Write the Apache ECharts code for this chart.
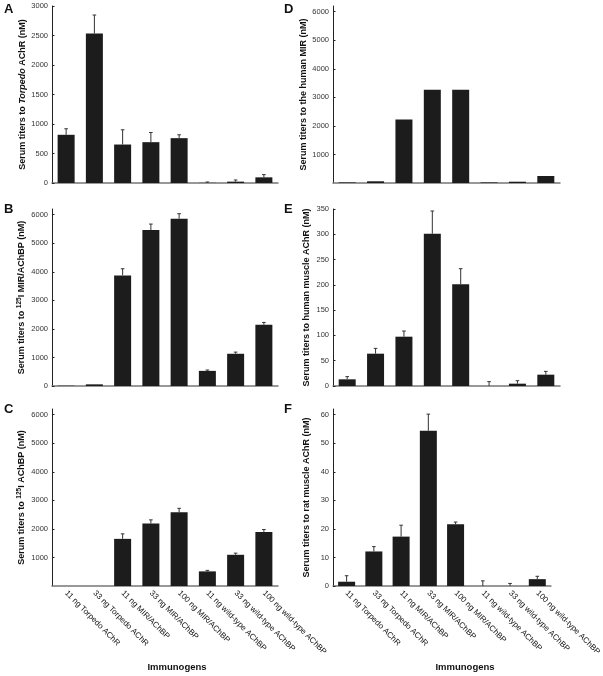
<!DOCTYPE html>
<html><head><meta charset="utf-8">
<script src="https://cdn.jsdelivr.net/npm/echarts@6/dist/echarts.min.js"></script>
<style>html,body{margin:0;padding:0;background:#fff}#c{width:603px;height:676px}</style>
</head><body><div id="c"></div>
<script>
var categories = ['11 ng Torpedo AChR','33 ng Torpedo AChR','11 ng MIR/AChBP','33 ng MIR/AChBP','100 ng MIR/AChBP','11 ng wild-type AChBP','33 ng wild-type AChBP','100 ng wild-type AChBP'];

var valuesA = [817, 2535, 652, 692, 760, 3, 23, 96];
var errorsA = [102, 312, 250, 164, 57, 14, 28, 46];
var valuesB = [10, 58, 3874, 5461, 5860, 530, 1129, 2145];
var errorsB = [0, 0, 233, 211, 175, 30, 58, 82];
var valuesC = [0, 0, 1651, 2187, 2581, 512, 1093, 1895];
var errorsC = [0, 0, 175, 129, 140, 35, 58, 82];
var valuesD = [20, 60, 2227, 3270, 3270, 20, 45, 246];
var errorsD = [0, 0, 0, 0, 0, 0, 0, 0];
var valuesE = [13.2, 63.9, 97.5, 301, 201, 0, 4.6, 22.4];
var errorsE = [5.3, 10.5, 11.2, 45, 31, 8.6, 5.9, 6.5];
var valuesF = [1.5, 12.1, 17.3, 54.4, 21.6, 0, 0, 2.4];
var errorsF = [2.1, 1.7, 4.0, 5.8, 0.8, 1.8, 0.9, 1.0];

var ticksA = [0, 500, 1000, 1500, 2000, 2500, 3000];
var ticksB = [0, 1000, 2000, 3000, 4000, 5000, 6000];
var ticksC = [1000, 2000, 3000, 4000, 5000, 6000];
var ticksD = [1000, 2000, 3000, 4000, 5000, 6000];
var ticksE = [0, 50, 100, 150, 200, 250, 300, 350];
var ticksF = [0, 10, 20, 30, 40, 50, 60];

var titleA = '{b|Serum titers to }{i|Torpedo}{b| AChR (nM)}';
var titleB = '{b|Serum titers to }{s|125}{b|I MIR/AChBP (nM)}';
var titleC = '{b|Serum titers to }{s|125}{b|I AChBP (nM)}';
var titleD = '{b|Serum titers to the human MIR (nM)}';
var titleE = '{b|Serum titers to human muscle AChR (nM)}';
var titleF = '{b|Serum titers to rat muscle AChR (nM)}';

var FONT = 'Liberation Sans, Arial, Helvetica, sans-serif';
var panels = [
  {letter:'A', v:valuesA, e:errorsA, t:ticksA, max:3000, name:titleA, left:52, top:6, bottom:false},
  {letter:'D', v:valuesD, e:errorsD, t:ticksD, max:6200, name:titleD, left:333, top:6, bottom:false},
  {letter:'B', v:valuesB, e:errorsB, t:ticksB, max:6200, name:titleB, left:52, top:209, bottom:false},
  {letter:'E', v:valuesE, e:errorsE, t:ticksE, max:350, name:titleE, left:333, top:209, bottom:false},
  {letter:'C', v:valuesC, e:errorsC, t:ticksC, max:6200, name:titleC, left:52, top:409, bottom:true},
  {letter:'F', v:valuesF, e:errorsF, t:ticksF, max:62, name:titleF, left:333, top:409, bottom:true}
];

var rich = {
  b:{fontFamily:FONT, fontWeight:'bold', fontSize:9, color:'#111', lineHeight:12},
  i:{fontFamily:FONT, fontWeight:'bold', fontStyle:'italic', fontSize:9, color:'#111', lineHeight:12},
  s:{fontFamily:FONT, fontWeight:'bold', fontSize:6.5, color:'#111', lineHeight:12, verticalAlign:'top', padding:[0,0,5,0]}
};

var grids = [], xAxes = [], yAxes = [], series = [], graphics = [];
panels.forEach(function(p, k){
  grids.push({left:p.left, top:p.top, width:p.left === 52 ? 226 : 227, height:177, containLabel:false});
  xAxes.push({
    type:'category', gridIndex:k, data:categories, boundaryGap:true,
    axisLine:{lineStyle:{color:'#777', width:1.5}},
    axisTick:{show:false},
    axisLabel:{show:p.bottom, rotate:-45, interval:0, margin:6, fontFamily:FONT, fontSize:8, color:'#111'}
  });
  yAxes.push({
    type:'value', gridIndex:k, min:0, max:p.max,
    splitLine:{show:false},
    axisLine:{show:true, lineStyle:{color:'#222', width:1}},
    axisTick:{show:true, inside:true, length:2.5, customValues:p.t, lineStyle:{color:'#222'}},
    axisLabel:{customValues:p.t, margin:4, fontFamily:FONT, fontSize:7.5, color:'#333',
      formatter:function(val){ return String(val); }},
    name:p.name, nameLocation:'middle', nameRotate:90, nameGap:20,
    nameTextStyle:{rich:rich}
  });
  series.push({
    type:'bar', xAxisIndex:k, yAxisIndex:k, data:p.v, barWidth:17,
    itemStyle:{color:'#1c1c1c'}, silent:true, animation:false
  });
  var ed = p.v.map(function(val, i){ return [i, val, p.e[i]]; }).filter(function(d){ return d[2] > 0; });
  series.push({
    type:'custom', xAxisIndex:k, yAxisIndex:k, data:ed, animation:false, silent:true, z:5,
    renderItem:function(params, api){
      var x = api.value(0), v = api.value(1), er = api.value(2);
      var p0 = api.coord([x, v]);
      var p1 = api.coord([x, v + er]);
      var st = {stroke:'#333', lineWidth:1};
      return {type:'group', children:[
        {type:'line', shape:{x1:p0[0], y1:p0[1], x2:p1[0], y2:p1[1]}, style:st},
        {type:'line', shape:{x1:p1[0]-1.8, y1:p1[1], x2:p1[0]+1.8, y2:p1[1]}, style:st}
      ]};
    }
  });
  graphics.push({type:'text', left:p.left === 52 ? 4 : 284, top:p.top - 3 + (p.top === 6 ? 0 : -3),
    style:{text:p.letter, font:'bold 13px ' + FONT, fill:'#111'}});
});
graphics.push({type:'text', x:177, y:667, style:{text:'Immunogens', font:'bold 9.5px ' + FONT, fill:'#111', align:'center', verticalAlign:'middle'}});
graphics.push({type:'text', x:465, y:667, style:{text:'Immunogens', font:'bold 9.5px ' + FONT, fill:'#111', align:'center', verticalAlign:'middle'}});

var chart = echarts.init(document.getElementById('c'), null, {renderer:'canvas'});
chart.setOption({
  animation:false, backgroundColor:'#fff',
  grid:grids, xAxis:xAxes, yAxis:yAxes, series:series, graphic:graphics
});
</script></body></html>
